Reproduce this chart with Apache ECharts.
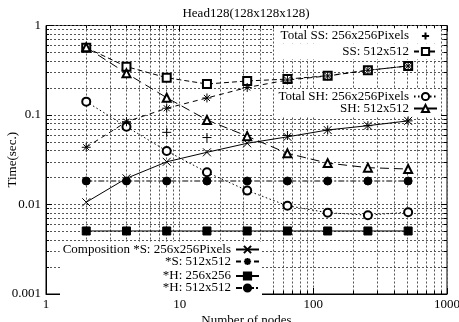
<!DOCTYPE html>
<html>
<head>
<meta charset="utf-8">
<script src="https://cdn.jsdelivr.net/npm/echarts@6/dist/echarts.min.js"></script>
<style>
  html, body { margin: 0; padding: 0; background: #fff; }
  #chart { width: 459px; height: 322px; }
</style>
</head>
<body>
<div id="chart"></div>
<script>
// data (time in seconds)
const nodes = [2, 4, 8, 16, 32, 64, 128, 256, 512];
const totalSS256 = [null, 0.083, 0.064, 0.056, 0.059, 0.059, 0.068, 0.076, 0.086];
const ss512 = [0.565, 0.347, 0.261, 0.222, 0.24, 0.252, 0.275, 0.316, 0.353];
const totalSH256 = [0.141, 0.074, 0.0396, 0.0229, 0.0143, 0.0097, 0.0081, 0.0076, 0.0082];
const sh512 = [0.57, 0.292, 0.156, 0.088, 0.058, 0.0373, 0.029, 0.0258, 0.0249];
const compS256 = [0.0106, 0.0196, 0.030, 0.0383, 0.0483, 0.057, 0.068, 0.076, 0.086];
const compS512 = [0.0436, 0.084, 0.119, 0.155, 0.203, 0.246, 0.273, 0.316, 0.353];
const compH256 = [0.00506, 0.00506, 0.00506, 0.00506, 0.00506, 0.00506, 0.00506, 0.00506, 0.00506];
const compH512 = [0.0183, 0.0183, 0.0183, 0.0183, 0.0183, 0.0183, 0.0183, 0.0183, 0.0183];

const FONT = '"Liberation Serif", "Times New Roman", serif';
const PLUS = 'path://M5 0L5 10M0 5L10 5';
const CROSS = 'path://M0 0L10 10M10 0L0 10';
const STAR = 'path://M5 0L5 10M0 5L10 5M1.6 1.6L8.4 8.4M8.4 1.6L1.6 8.4';

const pairs = (ys) => nodes.map((n, i) => [n, ys[i]]).filter(p => p[1] != null);

function mk(name, ys, symbol, size, dash, lineOn) {
  return {
    name: name,
    type: 'line',
    data: pairs(ys),
    symbol: symbol,
    symbolSize: size,
    showAllSymbol: true,
    animation: false,
    lineStyle: { color: '#000', width: 1, type: dash, opacity: lineOn === false ? 0 : 1 },
    itemStyle: { color: '#000', borderColor: '#000', borderWidth: 1 },
    emphasis: { disabled: true }
  };
}

function leg(name, right, cy, w) {
  return {
    data: [name],
    orient: 'vertical',
    right: right,
    top: cy - 7,
    align: 'right',
    itemWidth: 23,
    itemHeight: 9,
    padding: [1, 2, 1, 3],
    backgroundColor: '#fff',
    selectedMode: false,
    textStyle: { fontFamily: FONT, fontSize: 13, color: '#000', width: w, align: 'right', lineHeight: 13 }
  };
}

const gridLine = { show: true, lineStyle: { color: '#555', type: [2, 2], width: 1 } };
const tickFmt = (v) => String(+Number(v).toPrecision(3));

const chart = echarts.init(document.getElementById('chart'));
chart.setOption({
  backgroundColor: '#fff',
  animation: false,
  title: {
    text: 'Head128(128x128x128)',
    left: 246, top: 7, textAlign: 'center', padding: 0,
    textStyle: { fontFamily: FONT, fontSize: 13, fontWeight: 'normal', color: '#000' }
  },
  grid: {
    left: 46, right: 12, top: 25.5, bottom: 28, outerBoundsMode: 'none', containLabel: false,
    show: true, borderColor: '#000', borderWidth: 1, backgroundColor: 'transparent'
  },
  legend: [
    leg('Total SS: 256x256Pixels', 19, 35.5, 132),
    leg('SS: 512x512', 19, 51, 132),
    leg('Total SH: 256x256Pixels', 19, 96, 132),
    leg('SH: 512x512', 19, 108, 132),
    leg('Composition *S: 256x256Pixels', 197, 249, 168),
    leg('*S: 512x512', 197, 261, 168),
    leg('*H: 256x256', 197, 275.5, 168),
    leg('*H: 512x512', 197, 287.5, 168)
  ],
  xAxis: [{
    type: 'log', logBase: 10, min: 1, max: 1000,
    name: 'Number of nodes', nameLocation: 'middle', nameGap: 20, nameMoveOverlap: false,
    nameTextStyle: { fontFamily: FONT, fontSize: 13, color: '#000' },
    axisLine: { show: true, lineStyle: { color: '#000' } },
    axisTick: { show: true, inside: true, length: 6, lineStyle: { color: '#000' } },
    minorTick: { show: true, splitNumber: 9, length: 3, lineStyle: { color: '#000' } },
    axisLabel: {
      fontFamily: FONT, fontSize: 13, color: '#000', margin: 4, formatter: tickFmt,
      alignMinLabel: 'center', alignMaxLabel: 'center', hideOverlap: false
    },
    splitLine: gridLine,
    minorSplitLine: gridLine
  }, {
    type: 'log', logBase: 10, min: 1, max: 1000, position: 'top',
    axisLine: { show: false },
    axisTick: { show: true, inside: true, length: 6, lineStyle: { color: '#000' } },
    minorTick: { show: true, splitNumber: 9, length: 3, lineStyle: { color: '#000' } },
    axisLabel: { show: false },
    splitLine: { show: false }
  }],
  yAxis: [{
    type: 'log', logBase: 10, min: 0.001, max: 1,
    name: 'Time(sec.)', nameLocation: 'middle', nameGap: 27, nameMoveOverlap: false,
    nameTextStyle: { fontFamily: FONT, fontSize: 13, color: '#000' },
    axisLine: { show: true, lineStyle: { color: '#000' } },
    axisTick: { show: true, inside: true, length: 6, lineStyle: { color: '#000' } },
    minorTick: { show: true, splitNumber: 9, length: 3, lineStyle: { color: '#000' } },
    axisLabel: { fontFamily: FONT, fontSize: 13, color: '#000', margin: 5, formatter: tickFmt },
    splitLine: gridLine,
    minorSplitLine: gridLine
  }, {
    type: 'log', logBase: 10, min: 0.001, max: 1, position: 'right',
    axisLine: { show: false },
    axisTick: { show: true, inside: true, length: 6, lineStyle: { color: '#000' } },
    minorTick: { show: true, splitNumber: 9, length: 3, lineStyle: { color: '#000' } },
    axisLabel: { show: false },
    splitLine: { show: false }
  }],
  series: [
    mk('Total SS: 256x256Pixels', totalSS256, PLUS, 9, 'solid', false),
    mk('SS: 512x512', ss512, 'emptyRect', 8, [5, 3]),
    mk('Total SH: 256x256Pixels', totalSH256, 'emptyCircle', 8, [1.5, 2.5]),
    mk('SH: 512x512', sh512, 'emptyTriangle', 8, [9, 5]),
    mk('Composition *S: 256x256Pixels', compS256, CROSS, 8, 'solid'),
    mk('*S: 512x512', compS512, STAR, 9, [5, 4]),
    mk('*H: 256x256', compH256, 'rect', 8, 'solid'),
    mk('*H: 512x512', compH512, 'circle', 8, [6, 2, 2, 2])
  ]
});
</script>
</body>
</html>
